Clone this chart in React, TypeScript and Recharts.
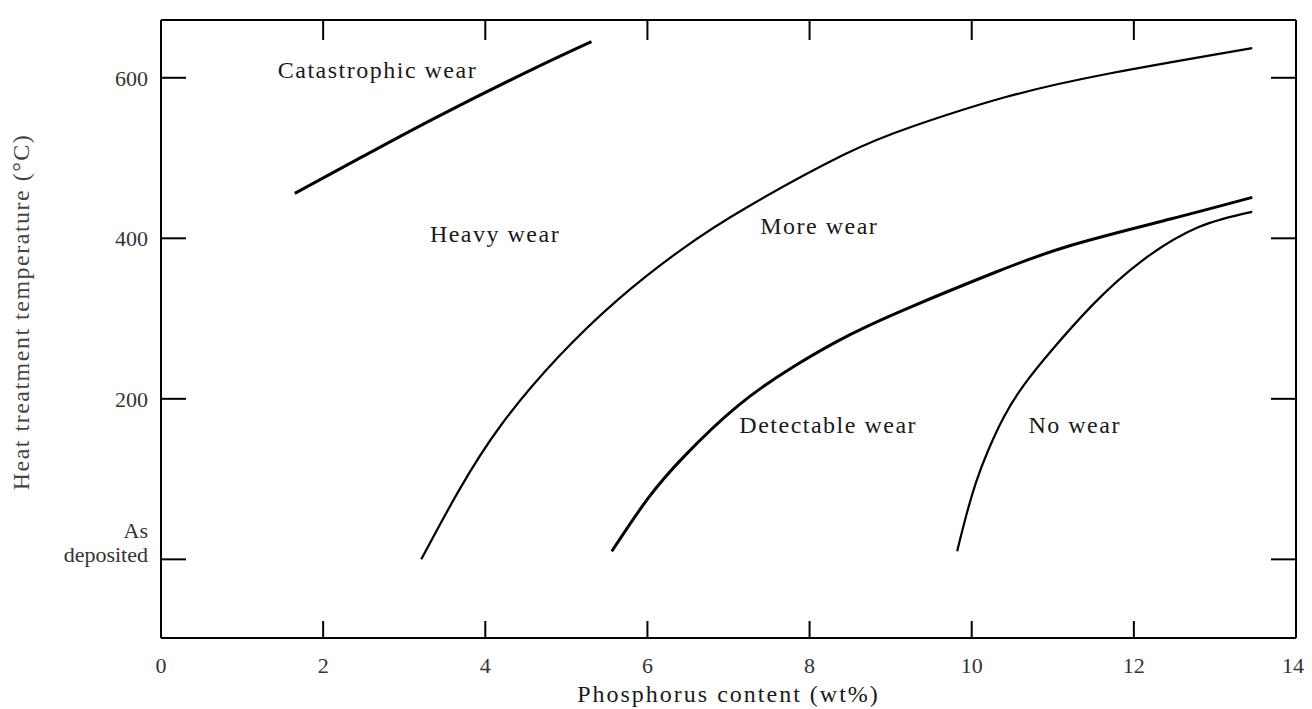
import React from "react";
import { LineChart, Line, XAxis, YAxis, ReferenceDot } from "recharts";

// fosfor (wt%) dan suhu (°C)
const catastrophicP = [1.65, 2.49, 3.42, 4.53, 5.31];
const catastrophicT = [456, 502, 552, 608, 645];

const heavyP = [3.21, 3.67, 4.2, 4.9, 5.64, 6.42, 7.25, 8.42, 9.26, 10.42, 11.73, 13.46];
const heavyT = [0, 85, 168, 252, 324, 386, 440, 504, 539, 576, 606, 637];

const detectableP = [5.56, 6.0, 6.45, 7.1, 7.8, 8.5, 9.26, 10.3, 11.25, 12.45, 13.46];
const detectableT = [10, 75, 128, 190, 240, 280, 315, 358, 392, 424, 451];

const noWearP = [9.82, 9.92, 10.05, 10.2, 10.4, 10.65, 11.0, 11.5, 12.1, 12.8, 13.46];
const noWearT = [10, 50, 95, 135, 178, 218, 262, 318, 372, 414, 433];

const xTicks = [0, 2, 4, 6, 8, 10, 12, 14];
const yTicks = [0, 200, 400, 600];

const regionNames = ["Catastrophic wear", "Heavy wear", "More wear", "Detectable wear", "No wear"];
const regionP = [2.67, 4.12, 8.12, 8.23, 11.27];
const regionT = [610, 406, 416, 168, 168];

const FONT = "'Liberation Serif', 'Times New Roman', serif";
const INK = "#1a1a1a";

const zip = (p: number[], t: number[]) => p.map((x, i) => ({ x, y: t[i] }));

const curves = [
    { key: "catastrophic", data: zip(catastrophicP, catastrophicT), width: 3 },
    { key: "heavy", data: zip(heavyP, heavyT), width: 2.2 },
    { key: "detectable", data: zip(detectableP, detectableT), width: 3 },
    { key: "nowear", data: zip(noWearP, noWearT), width: 2.2 },
];

const YTick = ({ x, y, payload }: any) => {
    const style = { fill: "#333", fontSize: 22, fontFamily: FONT };
    if (payload.value === 0) {
        return (
            <g>
                <text x={x} y={y - 21} textAnchor="end" {...style}>As</text>
                <text x={x} y={y + 3} textAnchor="end" {...style}>deposited</text>
            </g>
        );
    }
    return (
        <text x={x} y={y} dy={8} textAnchor="end" {...style}>
            {payload.value}
        </text>
    );
};

const YTitle = () => (
    <text
        x={13}
        y={304}
        transform="rotate(-90 13 304)"
        textAnchor="middle"
        dominantBaseline="central"
        fill="#444"
        fontSize={24}
        fontFamily={FONT}
        letterSpacing={1.5}
    >
        Heat treatment temperature (°C)
    </text>
);

const noLabel = () => "";

export default function App() {
    return (
        <div style={{ width: 1296, height: 700, background: "#fff" }}>
            <LineChart width={1296} height={700} margin={{ top: 11, right: 7, bottom: 0, left: 0 }}>
                <XAxis
                    xAxisId="b"
                    type="number"
                    dataKey="x"
                    domain={[0, 14]}
                    ticks={xTicks}
                    allowDataOverflow
                    height={70}
                    stroke="#000"
                    strokeWidth={2}
                    tickSize={-17}
                    tickMargin={36}
                    tick={{ fill: "#333", fontSize: 22, fontFamily: FONT }}
                    label={{
                        value: "Phosphorus content (wt%)",
                        position: "insideBottom",
                        offset: 6,
                        fill: INK,
                        fontSize: 24,
                        fontFamily: FONT,
                        letterSpacing: 2,
                    }}
                />
                <XAxis
                    xAxisId="t"
                    orientation="top"
                    type="number"
                    dataKey="x"
                    domain={[0, 14]}
                    ticks={xTicks}
                    allowDataOverflow
                    interval={0}
                    height={1}
                    stroke="#000"
                    strokeWidth={2}
                    tickSize={-20}
                    tickFormatter={noLabel}
                />
                <YAxis
                    yAxisId="l"
                    type="number"
                    domain={[-98, 672]}
                    ticks={yTicks}
                    allowDataOverflow
                    width={153}
                    stroke="#000"
                    strokeWidth={2}
                    tickSize={-25}
                    tickMargin={38}
                    tick={<YTick />}
                    label={{ content: <YTitle /> }}
                />
                <YAxis
                    yAxisId="r"
                    orientation="right"
                    type="number"
                    domain={[-98, 672]}
                    ticks={yTicks}
                    allowDataOverflow
                    interval={0}
                    width={1}
                    stroke="#000"
                    strokeWidth={2}
                    tickSize={-25}
                    tickFormatter={noLabel}
                />
                {curves.map((c) => (
                    <Line
                        key={c.key}
                        xAxisId="b"
                        yAxisId="l"
                        data={c.data}
                        dataKey="y"
                        type="natural"
                        stroke="#000"
                        strokeWidth={c.width}
                        dot={false}
                        activeDot={false}
                        isAnimationActive={false}
                    />
                ))}
                {regionNames.map((name, i) => (
                    <ReferenceDot
                        key={name}
                        xAxisId="b"
                        yAxisId="l"
                        x={regionP[i]}
                        y={regionT[i]}
                        r={0}
                        fill="none"
                        stroke="none"
                        label={{
                            value: name,
                            position: "center",
                            fill: INK,
                            fontSize: 24,
                            fontFamily: FONT,
                            letterSpacing: 1.5,
                        }}
                    />
                ))}
            </LineChart>
        </div>
    );
}
